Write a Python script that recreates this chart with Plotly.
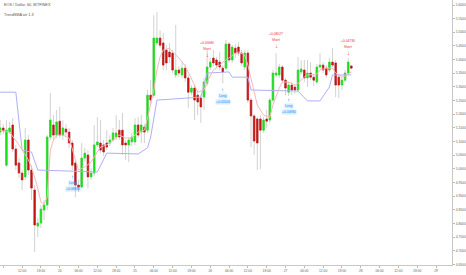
import plotly.graph_objects as go

# hour index relative to 00:00 of day 24
hours = list(range(-19, 94))

open_ = [5.135, 5.150, 5.014, 5.135, 5.161, 5.073, 5.022, 4.985, 4.971, 5.106,
         4.996, 4.923, 4.791, 4.802, 4.850, 4.868, 5.117, 5.161, 5.124, 5.175,
         5.124, 5.146, 5.135, 5.095, 5.022, 4.941, 4.934, 5.040, 5.051, 4.971,
         4.985, 5.088, 5.095, 5.088, 5.095, 5.095, 5.106, 5.117, 5.142, 5.142,
         5.095, 5.088, 5.099, 5.099, 5.161, 5.135, 5.153, 5.142, 5.270, 5.270,
         5.461, 5.479, 5.461, 5.435, 5.428, 5.424, 5.344, 5.362, 5.344, 5.369,
         5.333, 5.281, 5.296, 5.270, 5.260, 5.263, 5.314, 5.373, 5.406, 5.399,
         5.391, 5.369, 5.369, 5.457, 5.399, 5.442, 5.446, 5.424, 5.373, 5.424,
         5.252, 5.194, 5.183, 5.183, 5.142, 5.183, 5.179, 5.252, 5.344, 5.344,
         5.373, 5.325, 5.281, 5.307, 5.300, 5.289, 5.355, 5.362, 5.333, 5.351,
         5.336, 5.318, 5.373, 5.380, 5.369, 5.362, 5.391, 5.388, 5.336, 5.307,
         5.325, 5.351, 5.377]
high = [5.179, 5.164, 5.179, 5.172, 5.186, 5.088, 5.040, 4.996, 5.150, 5.124,
        5.014, 4.941, 4.821, 4.868, 4.886, 5.124, 5.278, 5.197, 5.216, 5.227,
        5.179, 5.164, 5.150, 5.106, 5.033, 4.960, 5.095, 5.077, 5.069, 5.004,
        5.161, 5.190, 5.179, 5.106, 5.142, 5.124, 5.150, 5.197, 5.179, 5.205,
        5.106, 5.117, 5.132, 5.186, 5.190, 5.197, 5.164, 5.289, 5.325, 5.563,
        5.574, 5.508, 5.497, 5.453, 5.461, 5.435, 5.527, 5.377, 5.391, 5.384,
        5.344, 5.307, 5.307, 5.289, 5.270, 5.333, 5.435, 5.406, 5.435, 5.410,
        5.428, 5.380, 5.472, 5.464, 5.453, 5.457, 5.464, 5.435, 5.435, 5.435,
        5.260, 5.201, 5.190, 5.197, 5.190, 5.216, 5.260, 5.362, 5.424, 5.384,
        5.380, 5.333, 5.318, 5.318, 5.311, 5.410, 5.399, 5.399, 5.399, 5.391,
        5.347, 5.384, 5.424, 5.391, 5.380, 5.406, 5.442, 5.399, 5.347, 5.336,
        5.362, 5.406, 5.380]
low = [5.124, 5.128, 5.007, 5.128, 5.062, 4.996, 4.967, 4.923, 4.960, 4.978,
       4.886, 4.696, 4.751, 4.784, 4.813, 4.850, 5.106, 5.106, 5.113, 5.113,
       5.106, 5.121, 5.077, 4.996, 4.897, 4.916, 4.930, 5.025, 4.930, 4.960,
       4.974, 5.080, 5.058, 5.047, 5.069, 5.084, 5.099, 5.106, 5.106, 5.051,
       5.033, 5.025, 5.084, 5.088, 5.113, 5.095, 5.095, 5.132, 5.238, 5.260,
       5.450, 5.442, 5.362, 5.362, 5.388, 5.351, 5.333, 5.336, 5.333, 5.318,
       5.223, 5.270, 5.179, 5.197, 5.168, 5.216, 5.303, 5.362, 5.377, 5.369,
       5.362, 5.314, 5.362, 5.388, 5.388, 5.406, 5.413, 5.377, 5.362, 5.241,
       5.080, 5.051, 4.996, 5.000, 5.132, 5.150, 5.168, 5.245, 5.333, 5.333,
       5.314, 5.270, 5.267, 5.270, 5.274, 5.281, 5.347, 5.318, 5.300, 5.325,
       5.303, 5.311, 5.366, 5.351, 5.333, 5.355, 5.373, 5.263, 5.260, 5.289,
       5.318, 5.344, 5.366]
close = [5.150, 5.139, 5.142, 5.150, 5.073, 5.014, 4.985, 4.960, 5.106, 4.996,
         4.930, 4.795, 4.802, 4.853, 4.868, 5.117, 5.179, 5.124, 5.172, 5.124,
         5.150, 5.135, 5.095, 5.014, 4.941, 4.934, 5.040, 5.058, 4.971, 4.985,
         5.088, 5.099, 5.069, 5.062, 5.080, 5.106, 5.132, 5.132, 5.117, 5.088,
         5.088, 5.106, 5.117, 5.161, 5.124, 5.161, 5.135, 5.270, 5.252, 5.479,
         5.479, 5.453, 5.380, 5.388, 5.410, 5.362, 5.362, 5.351, 5.369, 5.333,
         5.281, 5.296, 5.252, 5.245, 5.227, 5.318, 5.373, 5.391, 5.388, 5.380,
         5.373, 5.355, 5.457, 5.399, 5.446, 5.424, 5.424, 5.388, 5.424, 5.252,
         5.194, 5.102, 5.095, 5.142, 5.179, 5.175, 5.252, 5.351, 5.351, 5.373,
         5.325, 5.296, 5.307, 5.289, 5.289, 5.362, 5.366, 5.333, 5.351, 5.336,
         5.325, 5.373, 5.380, 5.362, 5.344, 5.391, 5.380, 5.307, 5.307, 5.325,
         5.351, 5.391, 5.369]

# trailing trend line (blue)
trail_h = [-19, -14, -12, -9, -7, 4, 12, 15, 25, 28, 29, 31, 45, 47, 54, 55,
           60, 61, 76, 79, 83, 86, 87, 93]
trail_p = [5.281, 5.281, 5.069, 5.062, 4.996, 4.993, 4.989, 5.058, 5.055, 5.077,
           5.117, 5.252, 5.263, 5.351, 5.355, 5.336, 5.336, 5.289, 5.285, 5.249,
           5.249, 5.300, 5.344, 5.344]

# SMA line (red)
sma_h = [-19, -16, -13, -10, -9, -7, -6, -5, -4, -3, -2, -1, 1, 3, 5, 6, 8, 10,
         11, 13, 15, 17, 19, 21, 23, 25, 27, 28, 30, 31, 32, 33, 35, 36, 38, 40,
         41, 43, 44, 46, 47, 49, 51, 52, 54, 56, 57, 59, 60, 62, 63, 65, 67, 68,
         70, 71, 73, 75, 76, 78, 79, 82, 83, 85, 87, 88, 90, 91, 93]
sma_p = [5.142, 5.135, 5.088, 5.033, 5.007, 4.930, 4.879, 4.872, 4.897, 5.069,
         5.106, 5.124, 5.124, 5.113, 5.033, 4.996, 5.007, 5.025, 5.044, 5.080,
         5.088, 5.106, 5.124, 5.113, 5.113, 5.135, 5.142, 5.186, 5.289, 5.362,
         5.410, 5.435, 5.442, 5.428, 5.406, 5.377, 5.355, 5.307, 5.281, 5.289,
         5.318, 5.362, 5.380, 5.391, 5.406, 5.424, 5.428, 5.417, 5.380, 5.278,
         5.234, 5.197, 5.190, 5.234, 5.296, 5.318, 5.318, 5.307, 5.314, 5.336,
         5.344, 5.347, 5.362, 5.369, 5.369, 5.351, 5.336, 5.340, 5.355]

# signals
sig_h = [4.1, 52, 73, 47, 69, 92]
sig_p = [4.971, 5.289, 5.252, 5.417, 5.450, 5.424]
sig_kind = ["Long", "Long", "Long", "Short", "Short", "Short"]
sig_value = ["+0.08680", "+0.02004", "+0.00880", "+0.05680", "+0.08027", "+0.04736"]

tick_h = [-18, -12, -6, 0, 6, 12, 18, 24, 30, 36, 42, 48, 54, 60, 66, 72,
          78, 84, 90, 96, 102, 108, 114, 120]
tick_txt = ["06:00", "12:00", "18:00", "24", "06:00", "12:00", "18:00", "25",
            "06:00", "12:00", "18:00", "26", "06:00", "12:00", "18:00", "27",
            "06:00", "12:00", "18:00", "28", "06:00", "12:00", "18:00", "29"]

GREEN = "#16e016"
RED = "#c81414"
WICK = "#d2d2d2"

body_hi = [max(o, c) for o, c in zip(open_, close)]
body_lo = [min(o, c) for o, c in zip(open_, close)]

fig = go.Figure()
fig.add_trace(go.Candlestick(
    x=hours, open=open_, high=high, low=low, close=close,
    increasing=dict(line=dict(color=WICK, width=1), fillcolor=WICK),
    decreasing=dict(line=dict(color=WICK, width=1), fillcolor=WICK),
    whiskerwidth=0, showlegend=False, hoverinfo="skip"))
fig.add_trace(go.Candlestick(
    x=hours, open=open_, high=body_hi, low=body_lo, close=close,
    increasing=dict(line=dict(color=GREEN, width=0.6), fillcolor=GREEN),
    decreasing=dict(line=dict(color=RED, width=0.6), fillcolor=RED),
    whiskerwidth=0, showlegend=False, hoverinfo="skip"))
fig.add_trace(go.Scatter(x=trail_h, y=trail_p, mode="lines",
                         line=dict(color="#aeb0f6", width=1), showlegend=False))
fig.add_trace(go.Scatter(x=sma_h, y=sma_p, mode="lines",
                         line=dict(color="#f6b8b8", width=1), showlegend=False))

anns = []
for h, p, k, v in zip(sig_h, sig_p, sig_kind, sig_value):
    if k == "Long":
        col, bg = "#2196f3", "rgba(33,150,243,0.18)"
        anns.append(dict(x=h, y=p, text="↑", font=dict(size=6, color=col),
                         showarrow=False, yanchor="middle"))
        anns.append(dict(x=h, y=p, text=k, font=dict(size=3.3, color=col), bgcolor=bg,
                         showarrow=False, yanchor="middle", yshift=-6, borderpad=0))
        anns.append(dict(x=h, y=p, text=v, font=dict(size=3.3, color=col), bgcolor=bg,
                         showarrow=False, yanchor="middle", yshift=-12, borderpad=0))
    else:
        col = "#f23030"
        anns.append(dict(x=h, y=p, text="↓", font=dict(size=6, color=col),
                         showarrow=False, yanchor="middle"))
        anns.append(dict(x=h, y=p, text=k, font=dict(size=3.3, color=col),
                         showarrow=False, yanchor="middle", yshift=6, borderpad=0))
        anns.append(dict(x=h, y=p, text=v, font=dict(size=3.3, color=col),
                         showarrow=False, yanchor="middle", yshift=12, borderpad=0))

anns.append(dict(xref="paper", yref="paper", x=0.004, y=0.995, xanchor="left", yanchor="top",
                 text="EOS / Dollar, 60, BITFINEX", showarrow=False,
                 font=dict(size=3.8, color="#555")))
anns.append(dict(xref="paper", yref="paper", x=0.004, y=0.96, xanchor="left", yanchor="top",
                 text="TrendSMA atr 1.3", showarrow=False,
                 font=dict(size=3.8, color="#555")))

fig.update_layout(
    width=466, height=275,
    margin=dict(l=0, r=12, t=0, b=10),
    paper_bgcolor="white", plot_bgcolor="white",
    font=dict(family="Liberation Sans, Arial, sans-serif", color="#666"),
    annotations=anns,
    boxgap=0.3,
    xaxis=dict(range=[-19.05, 125.1], tickvals=tick_h, ticktext=tick_txt,
               showgrid=False, zeroline=False, showline=True, linecolor="#c8c8c8",
               linewidth=1, ticks="outside", ticklen=2, tickcolor="#bbb",
               tickfont=dict(size=3.3, color="#666"), rangeslider=dict(visible=False)),
    yaxis=dict(range=[4.6486, 5.6183], side="right", tick0=4.7, dtick=0.05,
               tickformat=".4f", showgrid=False, zeroline=False, showline=True,
               linecolor="#c8c8c8", linewidth=1, ticks="outside", ticklen=2,
               tickcolor="#bbb", tickfont=dict(size=3.3, color="#666")),
)

fig.write_html("out.html")
